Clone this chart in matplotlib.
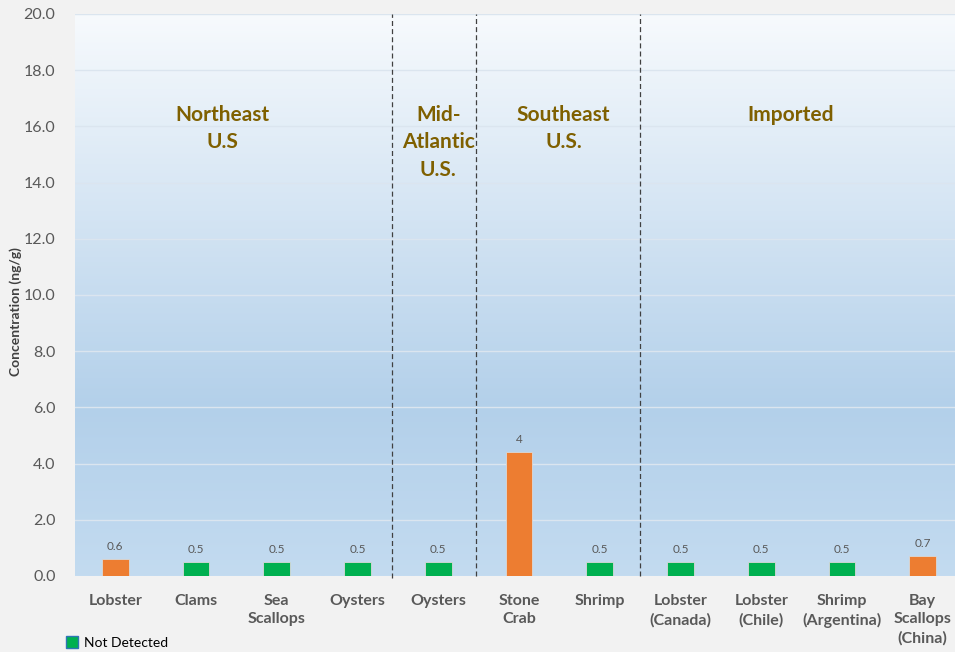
import numpy as np
import matplotlib
matplotlib.use("Agg")
import matplotlib.pyplot as plt
from matplotlib.colors import LinearSegmentedColormap
from matplotlib.patches import Patch

# donnees
categorias = ["Lobster", "Clams", "Sea\nScallops", "Oysters", "Oysters", "Stone\nCrab", "Shrimp",
              "Lobster\n(Canada)", "Lobster\n(Chile)", "Shrimp\n(Argentina)", "Bay\nScallops\n(China)"]
valores = [0.62, 0.5, 0.5, 0.5, 0.5, 4.4, 0.5, 0.5, 0.5, 0.5, 0.72]
rotulos = ["0.6", "0.5", "0.5", "0.5", "0.5", "4", "0.5", "0.5", "0.5", "0.5", "0.7"]
detectado = [True, False, False, False, False, True, False, False, False, False, True]
regioes = ["Northeast\nU.S", "Mid-\nAtlantic\nU.S.", "Southeast\nU.S.", "Imported"]
regioes_centro = [1.33, 4.0, 5.55, 8.36]
divisorias = [3.43, 4.47, 6.5]

plt.rcParams['font.family'] = ['Lato', 'DejaVu Sans']
cinza = "#595959"
laranja = "#ed7d31"
verde = "#00b050"

fig = plt.figure(figsize=(9.55, 6.52), dpi=100, facecolor="#f2f2f2")
ax = fig.add_axes([0.0785, 0.1166, 0.93, 0.862])
ax.set_facecolor("#f2f2f2")

x = np.arange(len(categorias))
ax.set_xlim(-0.5, len(categorias) - 0.5)
ax.set_ylim(0, 20)

# fundo em degrade
cmap = LinearSegmentedColormap.from_list("fundo", [(0, "#c3dbf0"), (0.3, "#b3d0ea"), (1, "#f7fafd")])
grad = np.linspace(0, 1, 256).reshape(-1, 1)
ax.imshow(grad, aspect="auto", cmap=cmap, origin="lower",
          extent=[-0.5, len(categorias) - 0.5, 0, 20], zorder=0)

for yy in np.arange(2, 20.1, 2):
    ax.axhline(yy, color="#dbe5ef", lw=1, zorder=1)

cores = [laranja if d else verde for d in detectado]
ax.bar(x, valores, width=0.33, color=cores, edgecolor="#d9d9d9", linewidth=0.6, zorder=3)

for xi, v, r in zip(x, valores, rotulos):
    ax.text(xi, v + 0.25, r, ha="center", va="bottom", fontsize=8.5, color=cinza, zorder=4)

for i, d in enumerate(divisorias):
    ymin = -0.06 if i == 0 else 0
    ax.plot([d, d], [ymin, 20], color="#404040", lw=0.9, ls=(0, (4, 2.5)), zorder=2, clip_on=False)

for c, txt in zip(regioes_centro, regioes):
    ax.text(c, 16.75, txt, ha="center", va="top", fontsize=15, fontweight="bold",
            color="#7f6000", linespacing=1.45, zorder=4)

ax.set_xticks(x)
ax.set_xticklabels(categorias, fontsize=11.5, fontweight="bold", color=cinza, linespacing=1.4, va="top")
ax.set_yticks(np.arange(0, 20.1, 2))
ax.set_yticklabels(["{:.1f}".format(v) for v in np.arange(0, 20.1, 2)], fontsize=11.5, color=cinza)
ax.tick_params(axis="x", length=0, pad=13)
ax.tick_params(axis="y", length=0, pad=14)
for s in ax.spines.values():
    s.set_visible(False)

fig.text(0.016, 0.522, "Concentration (ng/g)", rotation=90, ha="center", va="center",
         fontsize=10, fontweight="bold", color="#404040")

fig.legend(handles=[Patch(facecolor=verde, edgecolor="#2e75b6", label="Not Detected")],
           loc="lower left", bbox_to_anchor=(0.056, -0.014), frameon=False, fontsize=10,
           handlelength=0.9, handleheight=0.9, handletextpad=0.4)

fig.savefig("out.png", dpi=100, facecolor=fig.get_facecolor())
